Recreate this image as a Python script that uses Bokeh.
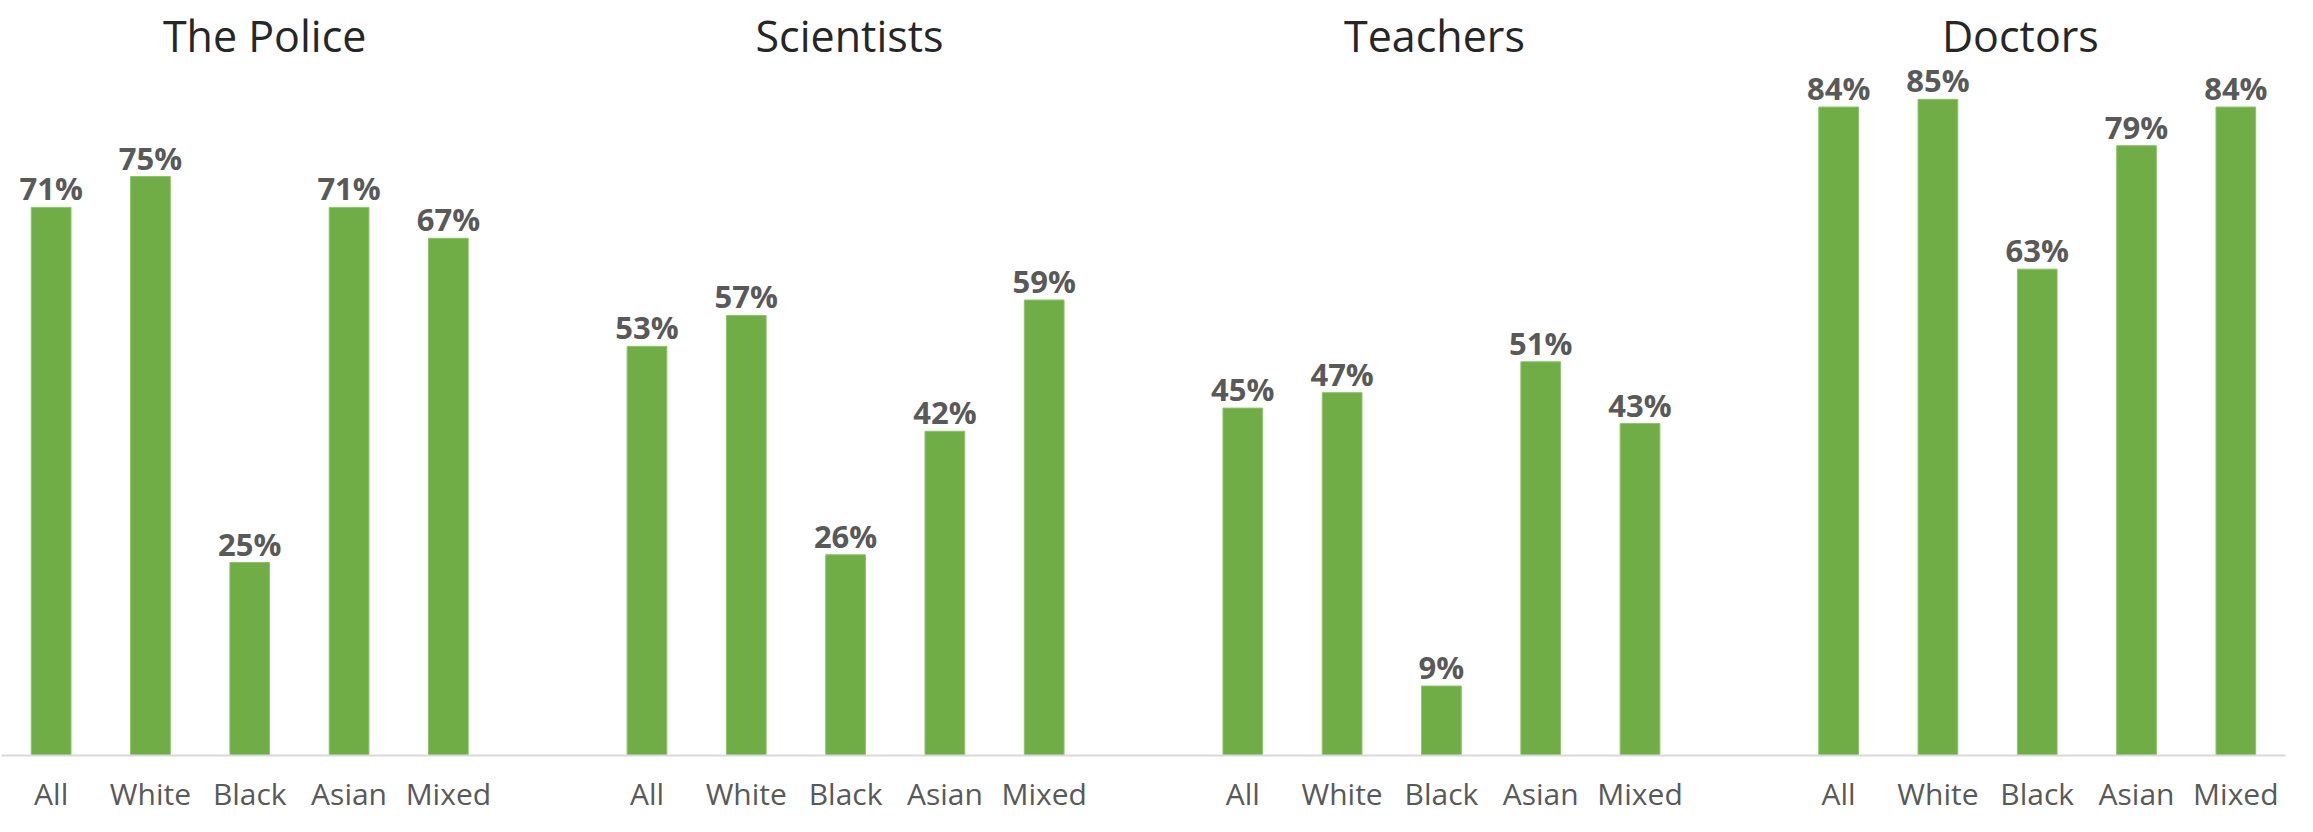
from bokeh.plotting import figure
from bokeh.models import Range1d, FixedTicker, ColumnDataSource
from bokeh.core.properties import value
from bokeh.embed import file_html
from bokeh.resources import INLINE

groups = ["The Police", "Scientists", "Teachers", "Doctors"]
categories = ["All", "White", "Black", "Asian", "Mixed"]
police = [71, 75, 25, 71, 67]
scientists = [53, 57, 26, 42, 59]
teachers = [45, 47, 9, 51, 43]
doctors = [84, 85, 63, 79, 84]
series = [police, scientists, teachers, doctors]

# layout: each group occupies 5 slots, followed by one empty slot
SLOTS = len(categories) + 1
xs, tops, labels, ticklabels = [], [], [], {}
for g, vals in enumerate(series):
    for i, v in enumerate(vals):
        x = g * SLOTS + i
        xs.append(x)
        tops.append(v)
        labels.append(f"{v}%")
        ticklabels[x] = categories[i]

src = ColumnDataSource(dict(x=xs, top=tops, label=labels))

FONT = "Open Sans"
p = figure(width=2297, height=816, output_backend="svg", toolbar_location=None,
           x_range=Range1d(-0.5, len(series) * SLOTS - 1.5), y_range=Range1d(0, 97.8),
           y_axis_location=None, min_border_left=1, min_border_right=12,
           min_border_top=0, min_border_bottom=58)
p.outline_line_color = None
p.xgrid.visible = False
p.ygrid.visible = False
p.background_fill_color = "white"

p.vbar(x="x", top="top", width=0.4, bottom=0, source=src,
       fill_color="#70AD47", line_color="#8DC46B", line_width=1)

p.text(x="x", y="top", text="label", source=src, text_align="center",
       text_baseline="alphabetic", y_offset=-19, text_font=value(FONT),
       text_font_style="bold", text_font_size="31px", text_color="#595959")

title_x = [2.15, 8.04, 13.93, 19.83]
p.text(x=title_x, y=[93.3] * 4, text=groups, text_align="center",
       text_baseline="alphabetic", text_font=value(FONT), text_font_size="43px",
       text_color="#262626")

ax = p.xaxis[0]
ax.ticker = FixedTicker(ticks=xs)
ax.major_label_overrides = {int(k): v for k, v in ticklabels.items()}
ax.major_tick_line_color = None
ax.minor_tick_line_color = None
ax.major_tick_out = 0
ax.major_tick_in = 0
ax.axis_line_color = "#D9D9D9"
ax.axis_line_width = 2
ax.major_label_standoff = 17
ax.major_label_text_font = FONT
ax.major_label_text_font_size = "30px"
ax.major_label_text_color = "#595959"

open("out.html", "w").write(file_html(p, INLINE))
